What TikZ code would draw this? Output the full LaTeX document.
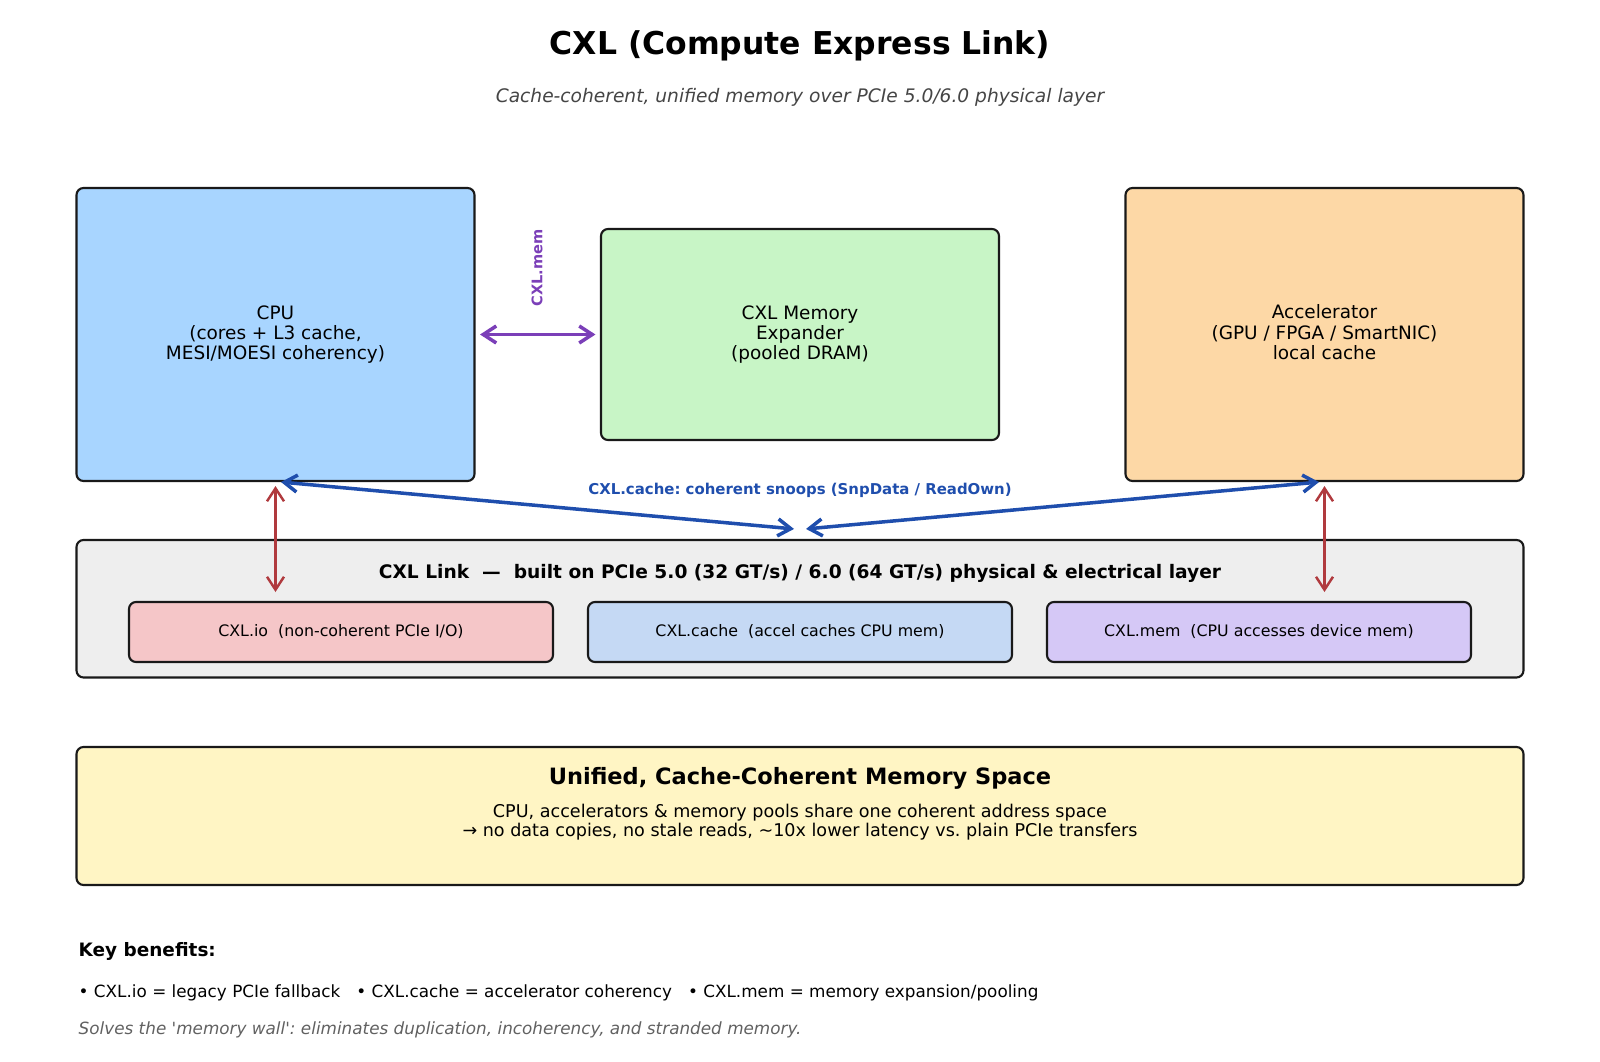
\documentclass[tikz,border=0pt]{standalone}
\usepackage{fontspec}
\setmainfont{DejaVu Sans}[Ligatures=TeXOff]
\usetikzlibrary{arrows.meta,calc}

\definecolor{cpublue}{HTML}{A8D5FF}
\definecolor{memgreen}{HTML}{C8F5C6}
\definecolor{accorange}{HTML}{FDD8A6}
\definecolor{linkgrey}{HTML}{EEEEEE}
\definecolor{iored}{HTML}{F5C6C8}
\definecolor{cacheblue}{HTML}{C5D9F4}
\definecolor{memlilac}{HTML}{D5C8F6}
\definecolor{unifyellow}{HTML}{FFF5C4}
\definecolor{mempurple}{HTML}{7B3FB8}
\definecolor{snoopblue}{HTML}{1F4EAD}
\definecolor{arrowred}{HTML}{B03A3E}

\begin{document}
\frenchspacing
\begin{tikzpicture}[>={Straight Barb[length=2.6mm,width=3.4mm]},
    box/.style={draw=black!90, line width=1.2pt, rounded corners=4pt, align=center,
        inner sep=0pt, font=\fontsize{10.5}{11.6}\selectfont},
    layerbox/.style={box, minimum width=8.48cm, minimum height=1.2cm,
        font=\fontsize{9}{11}\selectfont},
    linkarrow/.style={<->, line width=2pt}]
    \useasboundingbox (0, 0) rectangle (32, -21.24);

    % 标题
    \node[font=\bfseries\fontsize{17.9}{21}\selectfont] (title) at (16, -0.92) {CXL (Compute Express Link)};
    \node[font=\itshape\fontsize{10.6}{12}\selectfont, text=black!73] (subtitle) at (16, -1.94)
        {Cache-coherent, unified memory over PCIe 5.0/6.0 physical layer};

    % 三个设备
    \node[box, fill=cpublue, minimum width=7.96cm, minimum height=5.86cm] (cpu) at (5.51, -6.69)
        {CPU\\(cores + L3 cache,\\MESI/MOESI coherency)};
    \node[box, fill=memgreen, minimum width=7.96cm, minimum height=4.22cm] (mem) at (16, -6.69)
        {CXL Memory\\Expander\\(pooled DRAM)};
    \node[box, fill=accorange, minimum width=7.96cm, minimum height=5.86cm] (acc) at (26.49, -6.69) {};
    \node[align=center, font=\fontsize{10.5}{11.6}\selectfont] (acctext) at (26.49, -6.65)
        {Accelerator\\(GPU / FPGA / SmartNIC)\\local cache};

    % CXL 链路及三个子协议
    \node[box, fill=linkgrey, minimum width=28.94cm, minimum height=2.75cm] (link) at (16, -12.175) {};
    \node[font=\bfseries\fontsize{10.6}{12}\selectfont] (linktitle) at (16, -11.46)
        {CXL Link\ \ —\ \ built on PCIe 5.0 (32 GT/s) / 6.0 (64 GT/s) physical \& electrical layer};
    \node[layerbox, fill=iored] (io) at (6.82, -12.64) {CXL.io\ \ (non-coherent PCIe I/O)};
    \node[layerbox, fill=cacheblue] (cache) at (16, -12.64) {CXL.cache\ \ (accel caches CPU mem)};
    \node[layerbox, fill=memlilac] (cxlmem) at (25.18, -12.64) {CXL.mem\ \ (CPU accesses device mem)};

    % 统一内存空间
    \node[box, fill=unifyellow, minimum width=28.94cm, minimum height=2.76cm] (unified) at (16, -16.32) {};
    \node[font=\bfseries\fontsize{12.8}{15}\selectfont] (uniftitle) at (16, -15.57)
        {Unified, Cache-Coherent Memory Space};
    \node[align=center, font=\fontsize{10}{11.2}\selectfont] (uniftext) at (16, -16.44)
        {CPU, accelerators \& memory pools share one coherent address space\\
         → no data copies, no stale reads, \textasciitilde10x lower latency vs. plain PCIe transfers};

    % 底部说明
    \node[anchor=west, font=\bfseries\fontsize{10.5}{12}\selectfont] (keyhead) at (1.45, -19.02) {Key benefits:};
    \node[anchor=west, font=\fontsize{9.57}{11}\selectfont] (keylist) at (1.45, -19.86)
        {• CXL.io = legacy PCIe fallback\ \ \ • CXL.cache = accelerator coherency\ \ \ • CXL.mem = memory expansion/pooling};
    \node[anchor=west, font=\itshape\fontsize{9.57}{11}\selectfont, text=black!62] (keynote) at (1.45, -20.60)
        {Solves the 'memory wall': eliminates duplication, incoherency, and stranded memory.};

    % 连线端点
    \coordinate (cpuS) at ($(cpu.south)+(0.11, 0)$);
    \coordinate (accS) at ($(acc.south)+(-0.11, 0)$);
    \coordinate (snpL) at ($(link.north)+(-0.12, 0.2)$);
    \coordinate (snpR) at ($(link.north)+(0.12, 0.2)$);
    \coordinate (ioTop) at (5.51, -11.84);
    \coordinate (memTop) at (26.49, -11.84);

    % CXL.mem
    \draw[linkarrow, mempurple, shorten <=0.09cm, shorten >=0.09cm] (cpu.east) -- (mem.west);
    \node[rotate=90, font=\bfseries\fontsize{8.3}{10}\selectfont, text=mempurple] (memlabel) at (10.74, -5.36) {CXL.mem};

    % CXL.cache 监听
    \draw[linkarrow, snoopblue] (cpuS) -- (snpL);
    \draw[linkarrow, snoopblue] (snpR) -- (accS);
    \node[font=\bfseries\fontsize{8.5}{10}\selectfont, text=snoopblue] (snooplabel) at (16, -9.80)
        {CXL.cache: coherent snoops (SnpData / ReadOwn)};

    % 接入链路
    \draw[linkarrow, arrowred, line width=1.4pt, shorten <=0.08cm] (cpu.south) -- (ioTop);
    \draw[linkarrow, arrowred, line width=1.4pt, shorten <=0.08cm] (acc.south) -- (memTop);
\end{tikzpicture}
\end{document}
